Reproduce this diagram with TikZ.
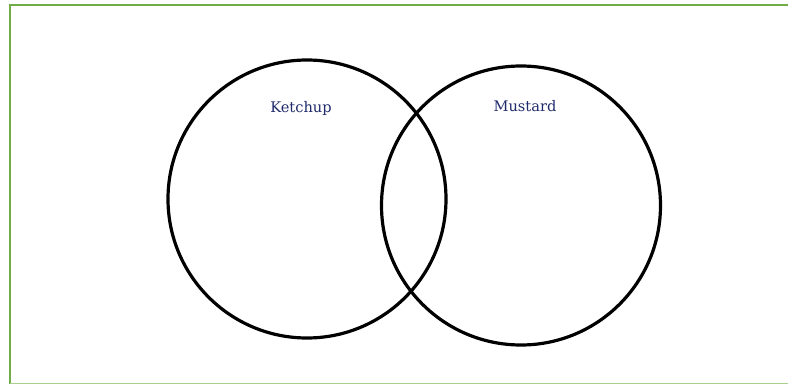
\documentclass[tikz,border=0pt]{standalone}
\usepackage{fontspec}
\setmainfont{DejaVu Serif}
\definecolor{framegreen}{HTML}{70AD47}
\definecolor{framegreenlight}{HTML}{A9D18E}
\definecolor{labelnavy}{HTML}{1F2A6B}
\begin{document}
\begin{tikzpicture}[x=1pt,y=-1pt,
  setcircle/.style={draw=black,line width=3.2pt,circle,minimum size=278pt,inner sep=0pt},
  setlabel/.style={text=labelnavy,font=\fontsize{14.6}{17}\selectfont,inner sep=0pt}]
\useasboundingbox (0,0) rectangle (788,385);
\draw[framegreen,line width=2pt] (10,383.5) -- (10,5) -- (788,5);
\draw[framegreenlight,line width=1.2pt] (10,383.5) -- (788,383.5);
\node[setcircle] (ketchup) at (307,199) {};
\node[setcircle,minimum size=279pt] (mustard) at (521,205.5) {};
\node[setlabel] (kl) at (301,108) {Ketchup};
\node[setlabel] (ml) at (525,106) {Mustard};
\end{tikzpicture}
\end{document}
